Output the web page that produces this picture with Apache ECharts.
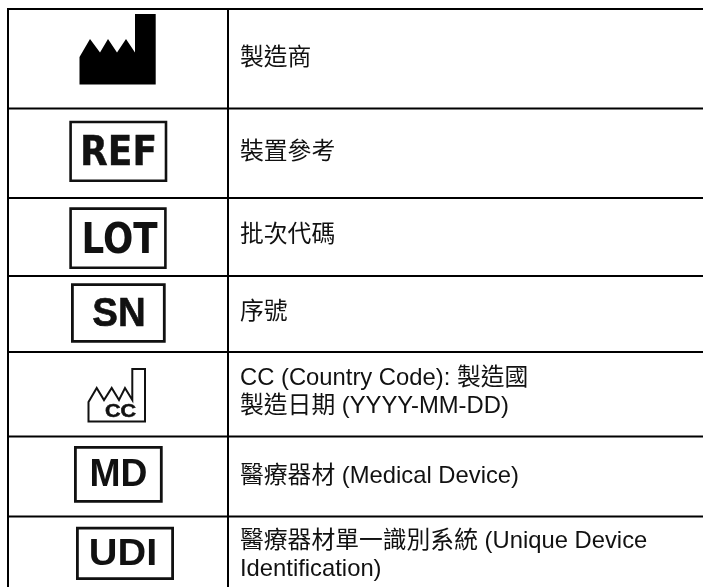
<!DOCTYPE html>
<html><head><meta charset="utf-8">
<style>html,body{margin:0;padding:0;background:#fff}#c{width:703px;height:587px}</style>
<script src="https://cdn.jsdelivr.net/npm/echarts@6/dist/echarts.min.js"></script>
</head><body><div id="c"></div>
<script>
// Table content
const symbolCodes = ['factory', 'REF', 'LOT', 'SN', 'factoryCC', 'MD', 'UDI'];
const descriptions = [
  ['製造商'],
  ['裝置參考'],
  ['批次代碼'],
  ['序號'],
  ['CC (Country Code): 製造國', '製造日期 (YYYY-MM-DD)'],
  ['醫療器材 (Medical Device)'],
  ['醫療器材單一識別系統 (Unique Device', 'Identification)']
];
// Row boundaries in axis units (the axes span the page)
const rowEdges = [9, 108.5, 198, 276, 352, 436.5, 516.5, 587];
const columnEdges = [8, 228, 703];
const textCenters = [[58],[152],[235],[312],[378,406],[476],[541,569]];

const FONT = '"Liberation Sans","Noto Sans CJK TC",sans-serif';
const boxes = {
  REF: {box:[69.3,120.7,167.3,182],   sw:2.6, cx:118.5, cy:151,   fs:41, sx:0.88, dy:3.5, tw:0.4, ff:'"DejaVu Sans"'},
  LOT: {box:[69.3,207.3,166.7,269],   sw:2.6, cx:119.5, cy:238.5, fs:42, sx:0.85, dy:3.5, tw:0,   ff:'"DejaVu Sans"'},
  SN:  {box:[71,283.3,165.7,342.7],   sw:2.8, cx:119,   cy:313,   fs:40, sx:0.96, dy:1.5, tw:0.6, ff:'"Liberation Sans"'},
  MD:  {box:[74,446,162.7,502.7],     sw:2.8, cx:118.5, cy:474.5, fs:38, sx:0.98, dy:1.5, tw:0,   ff:'"Liberation Sans"'},
  UDI: {box:[76,526.7,174,580],       sw:2.8, cx:123,   cy:553.5, fs:37.5, sx:1.06, dy:1.5, tw:0, ff:'"Liberation Sans"'}
};
const factoryShape = [[79.5,84.5],[79.5,57],[90,39],[100,52.5],[108,39],[117,52.5],[126,39],[135,52.5],[135,14],[155.7,14],[155.7,84.5]];
const factoryCCShape = [[88.5,421.5],[88.5,402],[96.7,388],[104,400],[111.7,388],[119,400],[125,388],[132.3,400],[132.3,369],[145,369],[145,421.5]];

function renderRow(params, api) {
  const i = api.value(0);
  const P = (x, y) => api.coord([x, y]);
  const kids = [];
  const line = (x1,y1,x2,y2) => { const a=P(x1,y1), b=P(x2,y2);
    kids.push({type:'line', shape:{x1:a[0],y1:a[1],x2:b[0],y2:b[1]}, style:{stroke:'#000',lineWidth:2}}); };
  const top = rowEdges[i], bot = rowEdges[i+1];
  line(columnEdges[0], top, columnEdges[2], top);
  line(columnEdges[0], top-1, columnEdges[0], bot);
  line(columnEdges[1], top-1, columnEdges[1], bot);
  const code = symbolCodes[i];
  if (code === 'factory' || code === 'factoryCC') {
    const cc = code === 'factoryCC';
    const pts = (cc ? factoryCCShape : factoryShape).map(p => P(p[0], p[1]));
    kids.push({type:'polygon', shape:{points:pts},
      style: cc ? {fill:'#fff',stroke:'#111',lineWidth:2} : {fill:'#000'}});
    if (cc) { const c = P(120.5, 412.5);
      kids.push({type:'text', x:c[0], y:c[1], scaleX:1.2,
        style:{text:'CC',x:0,y:0,fill:'#111',stroke:'#111',lineWidth:0.5,font:'bold 18px "Liberation Sans"',align:'center',verticalAlign:'middle'}}); }
  } else {
    const b = boxes[code], h = b.sw/2;
    const a = P(b.box[0]+h, b.box[1]+h), z = P(b.box[2]-h, b.box[3]-h);
    kids.push({type:'rect', shape:{x:a[0],y:a[1],width:z[0]-a[0],height:z[1]-a[1]},
      style:{fill:'#fff',stroke:'#111',lineWidth:b.sw}});
    const c = P(b.cx, b.cy + b.dy);
    const ts = {text:code,x:0,y:0,fill:'#111',font:'bold '+b.fs+'px '+b.ff,align:'center',verticalAlign:'middle'};
    if (b.tw) { ts.stroke = '#111'; ts.lineWidth = b.tw; }
    kids.push({type:'text', x:c[0], y:c[1], scaleX:b.sx, style:ts});
  }
  descriptions[i].forEach((t, k) => {
    const c = P(240, textCenters[i][k]);
    kids.push({type:'text', style:{text:t,x:c[0],y:c[1],fill:'#111',font:'23.8px '+FONT,align:'left',verticalAlign:'middle'}});
  });
  return {type:'group', children:kids};
}

const chart = echarts.init(document.getElementById('c'), null, {renderer:'canvas'});
chart.setOption({
  animation:false,
  backgroundColor:'#fff',
  grid:{left:0,right:0,top:0,bottom:0},
  xAxis:{type:'value',min:0,max:703,show:false},
  yAxis:{type:'value',min:0,max:587,inverse:true,show:false},
  series:[{type:'custom',renderItem:renderRow,silent:true,clip:false,
    data:symbolCodes.map((c,i)=>[i])}]
});
</script></body></html>
